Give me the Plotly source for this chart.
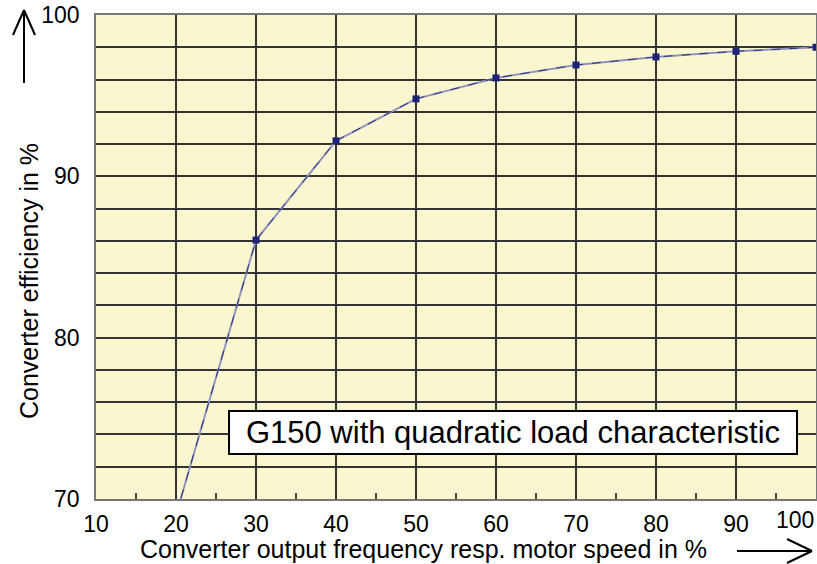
import plotly.graph_objects as go

speed = [20, 30, 40, 50, 60, 70, 80, 90, 100]
efficiency = [69.0, 86.05, 92.2, 94.8, 96.1, 96.9, 97.4, 97.75, 98.0]
x_ticks = [10, 20, 30, 40, 50, 60, 70, 80, 90, 100]
y_ticks = [70, 80, 90, 100]

W, H = 817, 564
L, R, T, B = 96, 1, 15, 65
pw, ph = W - L - R, H - T - B

def px(x):
    return (x - L) / pw

def py(y):
    return (H - B - y) / ph

fig = go.Figure()
fig.add_trace(go.Scatter(
    x=speed, y=efficiency, mode="lines",
    line=dict(color="#9295bb", width=2), hoverinfo="skip", showlegend=False))
fig.add_trace(go.Scatter(
    x=speed, y=efficiency, mode="lines+markers",
    line=dict(color="#2a2f85", width=1, dash="dash"),
    marker=dict(symbol="square", size=7, color="#1f2378"),
    showlegend=False, cliponaxis=True))

font = "Liberation Sans, Arial, sans-serif"
x_ticktext = [str(v) for v in x_ticks[:-1]] + [""]
fig.update_layout(
    width=W, height=H,
    margin=dict(l=L, r=R, t=T, b=B, autoexpand=False),
    paper_bgcolor="white", plot_bgcolor="#FAF7D0",
    font=dict(family=font, color="black"),
    xaxis=dict(range=[10, 100], tickvals=x_ticks, ticktext=x_ticktext, ticks="", showgrid=True,
               gridcolor="#333333", gridwidth=1.5, zeroline=False, automargin=False,
               showline=True, linecolor="#777777", linewidth=1.5, mirror=True,
               tickfont=dict(size=23), ticklabelstandoff=4, ticklabeloverflow="allow",
               minor=dict(tickvals=[15, 25, 35, 45, 55, 65, 75, 85, 95], ticks="inside",
                          ticklen=6, tickcolor="#444444", tickwidth=1.5, showgrid=False)),
    yaxis=dict(range=[70, 100], tickvals=y_ticks, ticks="", showgrid=False,
               zeroline=False, showline=True, linecolor="#777777", linewidth=1.5,
               mirror=True, tickfont=dict(size=23), automargin=False, ticklabelstandoff=10,
               ticklabeloverflow="allow",
               minor=dict(dtick=2, showgrid=True, gridcolor="#333333", gridwidth=1.5)),
)

# last x tick label, kept inside the page
fig.add_annotation(
    xref="x", yref="paper", x=x_ticks[-1], y=py(520),
    text=str(x_ticks[-1]), showarrow=False, font=dict(size=23, family=font),
    xanchor="right", yanchor="middle", xshift=0)

# annotation box
fig.add_annotation(
    xref="paper", yref="paper",
    x=px((228 + 798) / 2), y=py((410 + 455) / 2),
    text="G150 with quadratic load characteristic", showarrow=False,
    font=dict(size=31, family=font), bgcolor="white",
    bordercolor="black", borderwidth=2, borderpad=2,
    width=562, height=37, align="center",
    xanchor="center", yanchor="middle")

# axis titles
fig.add_annotation(
    xref="paper", yref="paper", x=px(423), y=py(549),
    text="Converter output frequency resp. motor speed in %", showarrow=False,
    font=dict(size=25, family=font), xanchor="center", yanchor="middle")
fig.add_annotation(
    xref="paper", yref="paper", x=px(29), y=py(281),
    text="Converter efficiency in %", showarrow=False, textangle=-90,
    font=dict(size=25, family=font), xanchor="center", yanchor="middle")

# arrows
arrow_lines = [
    ((24, 83), (24, 10)), ((13, 35), (24, 10)), ((35, 35), (24, 10)),
    ((737, 551), (812, 551)), ((787, 539), (812, 551)), ((787, 563), (812, 551)),
]
for (x0, y0), (x1, y1) in arrow_lines:
    fig.add_shape(type="line", xref="paper", yref="paper",
                  x0=px(x0), y0=py(y0), x1=px(x1), y1=py(y1),
                  line=dict(color="black", width=2))

fig.write_html("out.html", config={"displayModeBar": False},
               post_script="document.body.style.margin='0';document.body.style.overflow='hidden';")
